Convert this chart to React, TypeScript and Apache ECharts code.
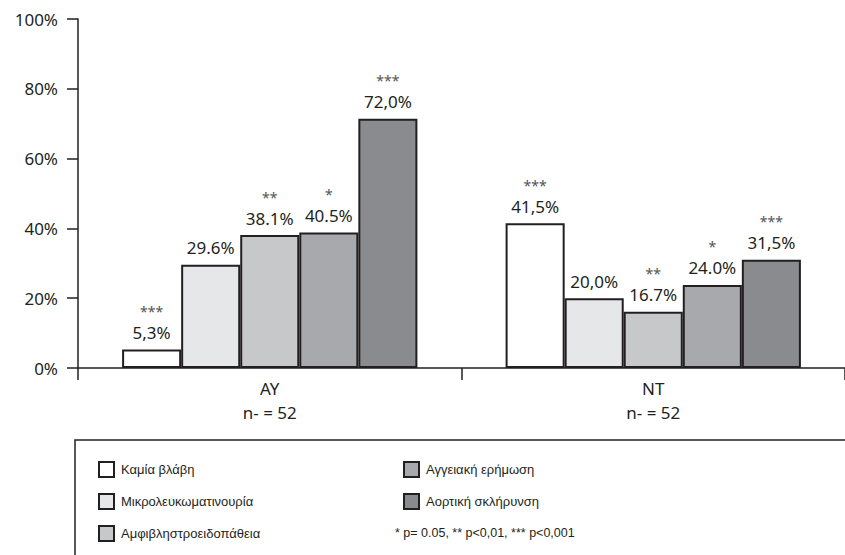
import React, { useEffect, useRef } from "react";
import * as echarts from "echarts";

const categories = ["AY", "NT"];
const sampleSizes = ["n- = 52", "n- = 52"];
const seriesNames = [
  "Καμία βλάβη",
  "Μικρολευκωματινουρία",
  "Αμφιβληστροειδοπάθεια",
  "Αγγειακή ερήμωση",
  "Αορτική σκλήρυνση",
];
const seriesColors = ["#ffffff", "#e6e7e8", "#c7c8ca", "#a7a9ac", "#8a8b8e"];

// bar heights (percent), per series: [AY, NT]
const noLesion = [5.3, 41.5];
const microalb = [29.6, 20.0];
const retinopathy = [38.1, 16.1];
const vascular = [38.8, 23.8];
const aortic = [71.4, 31.0];

// printed labels per series: [AY, NT]
const noLesionLabels = ["5,3%", "41,5%"];
const microalbLabels = ["29.6%", "20,0%"];
const retinopathyLabels = ["38.1%", "16.7%"];
const vascularLabels = ["40.5%", "24.0%"];
const aorticLabels = ["72,0%", "31,5%"];

const noLesionStars = ["***", "***"];
const microalbStars = ["", ""];
const retinopathyStars = ["**", "**"];
const vascularStars = ["*", "*"];
const aorticStars = ["***", "***"];

const yTicks = [0, 20, 40, 60, 80, 100];
const footnote = "* p= 0.05, ** p<0,01, *** p<0,001";

const INK = "#231f20";
const FONT = "'Noto Sans', 'Open Sans', sans-serif";
const NARROW = "'Liberation Sans Narrow', 'Liberation Sans', sans-serif";

// legend placement (left, top) per series
const legendLeft = [98, 98, 98, 403, 403];
const legendTop = [461, 493, 525, 461, 493];

export default function App() {
  const ref = useRef<HTMLDivElement>(null);
  useEffect(() => {
    if (!ref.current) return;
    const chart = echarts.init(ref.current, undefined, { renderer: "svg" });
    const values = [noLesion, microalb, retinopathy, vascular, aortic];
    const labels = [noLesionLabels, microalbLabels, retinopathyLabels, vascularLabels, aorticLabels];
    const stars = [noLesionStars, microalbStars, retinopathyStars, vascularStars, aorticStars];

    const series = seriesNames.map((name, i) => ({
      name,
      type: "bar",
      data: values[i],
      barGap: "0%",
      barCategoryGap: "23%",
      itemStyle: { color: seriesColors[i], borderColor: INK, borderWidth: 2 },
      label: {
        show: true,
        position: "top",
        distance: 6,
        formatter: (p: any) => {
          const s = stars[i][p.dataIndex];
          const v = labels[i][p.dataIndex];
          return s ? `{s|${s}}\n{v|${v}}` : `{v|${v}}`;
        },
        rich: {
          s: { fontSize: 14, lineHeight: 20, color: "#555", fontFamily: FONT },
          v: { fontSize: 17, lineHeight: 22, color: INK, fontFamily: FONT },
        },
      },
    }));

    const legends = seriesNames.map((name, i) => ({
      data: [name],
      orient: "horizontal",
      left: legendLeft[i],
      top: legendTop[i],
      itemWidth: 15,
      itemHeight: 15,
      icon: "rect",
      selectedMode: false,
      padding: 0,
      textStyle: { fontSize: 13, color: INK, fontFamily: NARROW, padding: [0, 0, 0, 2] },
    }));

    chart.setOption({
      animation: false,
      backgroundColor: "#ffffff",
      grid: { left: 78, top: 19, bottom: 187, width: 774 },
      xAxis: {
        type: "category",
        data: categories,
        axisLine: { show: true, lineStyle: { color: INK, width: 1.5 } },
        axisTick: { show: true, length: 12, alignWithLabel: false, lineStyle: { color: INK, width: 1.5 } },
        axisLabel: {
          margin: 8,
          fontSize: 17,
          lineHeight: 24,
          color: INK,
          fontFamily: FONT,
          formatter: (v: string, idx: number) => `${v}\n${sampleSizes[idx]}`,
        },
      },
      yAxis: {
        type: "value",
        min: yTicks[0],
        max: yTicks[yTicks.length - 1],
        interval: 20,
        axisLine: { show: true, lineStyle: { color: INK, width: 1.5 } },
        axisTick: { show: true, length: 11, lineStyle: { color: INK, width: 1.5 } },
        splitLine: { show: false },
        axisLabel: { formatter: "{value}%", fontSize: 17, color: INK, fontFamily: FONT, margin: 20 },
      },
      legend: legends,
      graphic: [
        {
          type: "rect",
          shape: { x: 75, y: 440, width: 800, height: 200 },
          style: { fill: "none", stroke: INK, lineWidth: 1.5 },
          silent: true,
        },
        {
          type: "text",
          x: 395,
          y: 533,
          style: {
            text: footnote,
            fontSize: 12.5,
            fontFamily: NARROW,
            fill: INK,
            verticalAlign: "middle",
          },
        },
      ],
      series,
    });
    return () => chart.dispose();
  }, []);
  return (
    <div
      ref={ref}
      style={{ position: "fixed", left: 0, top: 0, width: 845, height: 555, background: "#fff" }}
    />
  );
}
